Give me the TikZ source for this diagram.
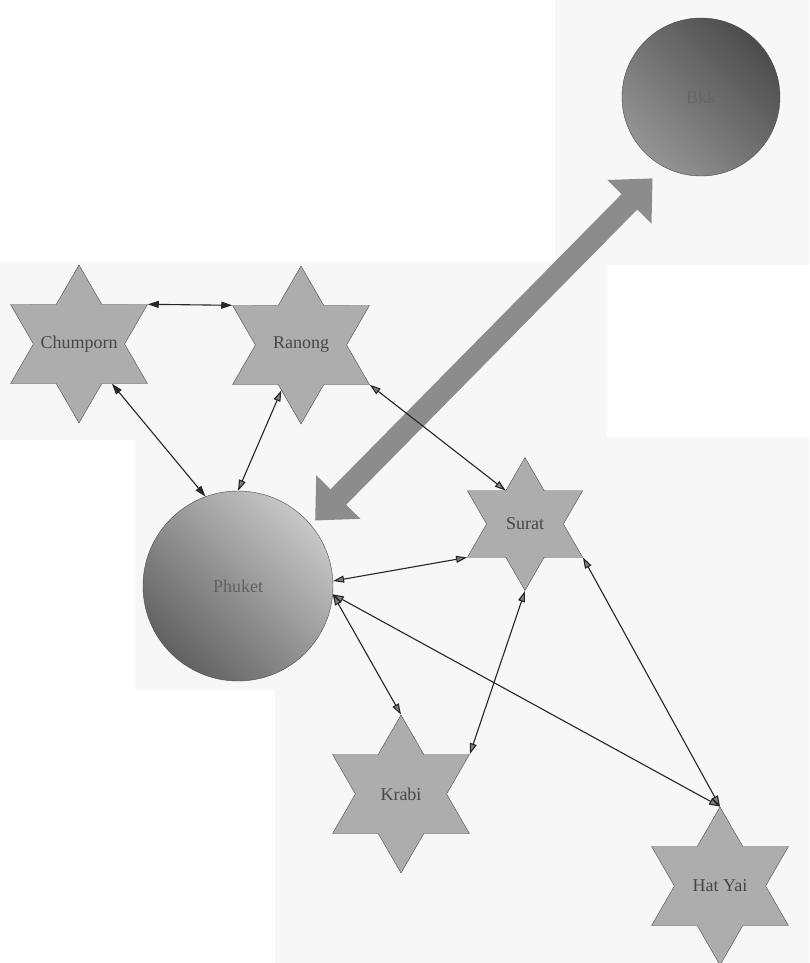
\documentclass[tikz,border=0pt]{standalone}
\usepackage{fontspec}
\setmainfont{Liberation Serif}
\usetikzlibrary{shapes.geometric,arrows.meta,calc}

\begin{document}
\begin{tikzpicture}[x=1pt,y=-1pt,
    every node/.style={font=\fontsize{18}{20}\selectfont, text=black!72},
    every label/.style={font=\fontsize{18}{20}\selectfont, text=black!72},
    town/.style={draw=black!70, fill=black!32, star, star points=6, star point ratio=1.732, minimum size=158pt, inner sep=0pt, label={center:#1}},
    hub/.style={draw=black!70, circle, minimum size=#1, inner sep=0pt, shading=axis},
    road/.style={<->, >={Triangle[length=11pt,width=7pt,fill=black!50]}, line width=1.1pt, black!85},
    roadk/.style={<->, >={Triangle[length=11pt,width=7pt]}, line width=1.1pt, black!85},
    panel/.style={fill=black!3, draw=none}]
    \useasboundingbox (0,0) rectangle (809,963);
    % faint scanned panels
    \fill[panel] (0,262) rectangle (607,440);
    \fill[panel] (555,0) rectangle (809,265);
    \fill[panel] (275,437) rectangle (809,963);
    \fill[panel] (135,437) rectangle (340,690);
    % hubs
    \node[hub=158pt, top color=black!70, bottom color=black!42, shading angle=-45, text=black!60] (bkk) at (701,97) {Bkk};
    \node[hub=190pt, top color=black!22, bottom color=black!62, shading angle=-45, text=black!62] (phuket) at (238,586) {Phuket};
    % towns
    \node[town=Chumporn] (chum) at (79,344) {};
    \node[town=Ranong] (ran) at (301,345) {};
    \node[town=Surat, minimum size=133pt] (sur) at (525,524) {};
    \node[town=Krabi] (krabi) at (401,794) {};
    \node[town=Hat Yai] (hatyai) at (720,886) {};
    % big link
    \draw[{Triangle[length=33pt,width=60pt]}-{Triangle[length=33pt,width=60pt]}, line width=22pt, black!45, shorten <=6pt, shorten >=16pt] (phuket.40) -- (bkk.242);
    % roads
    \draw[roadk] (chum.outer point 6) -- (ran.outer point 2);
    \draw[roadk] (chum) -- (phuket.110);
    \draw[road] (ran) -- (phuket.north);
    \draw[road] (ran.outer point 5) -- (sur.inner point 1);
    \draw[road] (phuket.3) -- (sur.outer point 3);
    \draw[road] (phuket.-5) -- (krabi.outer point 1);
    \draw[road] (phuket.-5) -- (hatyai.outer point 1);
    \draw[road] (sur.outer point 4) -- (krabi.outer point 6);
    \draw[road] (sur.outer point 5) -- (hatyai.outer point 1);
\end{tikzpicture}
\end{document}
